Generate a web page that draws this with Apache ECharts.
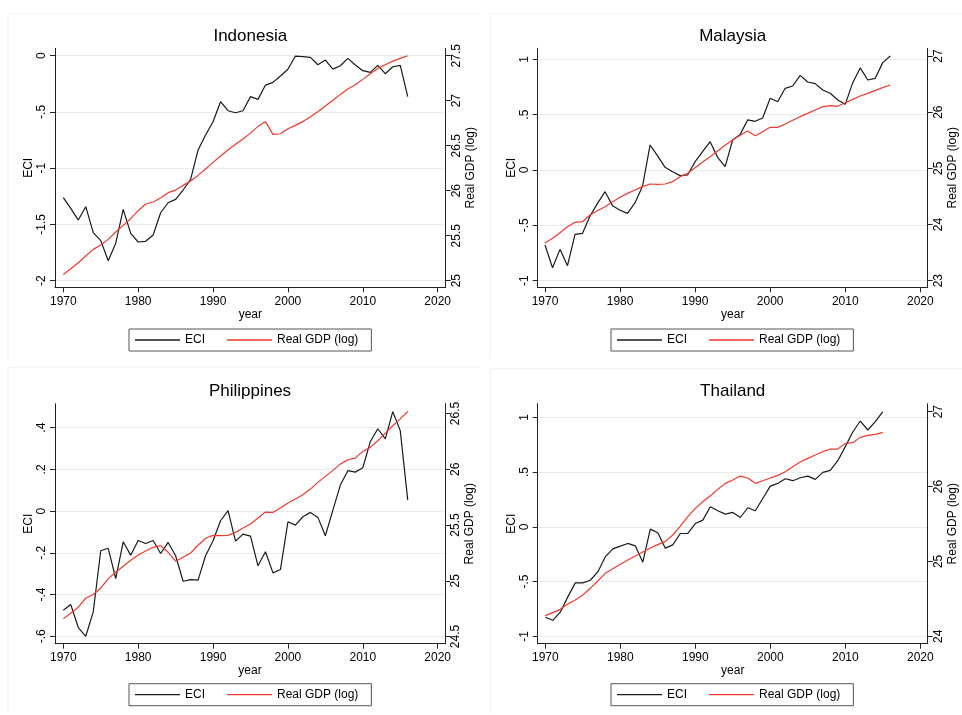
<!DOCTYPE html>
<html><head><meta charset="utf-8">
<script src="https://cdn.jsdelivr.net/npm/echarts@6/dist/echarts.min.js"></script>
<style>html,body{margin:0;padding:0;background:#fff}#c{width:962px;height:715px}</style>
</head><body><div id="c"></div>
<script>
// ---------- DATA ----------
const years = [1970,1971,1972,1973,1974,1975,1976,1977,1978,1979,1980,1981,1982,1983,1984,1985,1986,1987,1988,1989,1990,1991,1992,1993,1994,1995,1996,1997,1998,1999,2000,2001,2002,2003,2004,2005,2006,2007,2008,2009,2010,2011,2012,2013,2014,2015,2016];
const yearsTHA = [1970,1971,1972,1973,1974,1975,1976,1977,1978,1979,1980,1981,1982,1983,1984,1985,1986,1987,1988,1989,1990,1991,1992,1993,1994,1995,1996,1997,1998,1999,2000,2001,2002,2003,2004,2005,2006,2007,2008,2009,2010,2011,2012,2013,2014,2015];

const eciIDN = [-1.262,-1.357,-1.461,-1.342,-1.573,-1.644,-1.822,-1.668,-1.366,-1.579,
  -1.656,-1.650,-1.594,-1.396,-1.307,-1.277,-1.194,-1.099,-0.839,-0.705,
  -0.587,-0.409,-0.489,-0.507,-0.489,-0.364,-0.388,-0.261,-0.237,-0.181,
  -0.121,-0.003,-0.009,-0.015,-0.080,-0.039,-0.119,-0.089,-0.024,-0.083,
  -0.133,-0.148,-0.086,-0.160,-0.098,-0.086,-0.364];
const gdpIDN = [25.070,25.133,25.200,25.274,25.348,25.396,25.459,25.541,25.615,25.689,
  25.778,25.852,25.874,25.919,25.978,26.007,26.059,26.107,26.170,26.241,
  26.315,26.385,26.452,26.515,26.575,26.640,26.715,26.767,26.626,26.633,
  26.689,26.726,26.770,26.822,26.878,26.941,27.004,27.070,27.130,27.178,
  27.237,27.300,27.359,27.400,27.440,27.470,27.500];

const eciMYS = [-0.678,-0.883,-0.717,-0.864,-0.581,-0.572,-0.416,-0.301,-0.196,-0.322,
  -0.364,-0.392,-0.295,-0.145,0.226,0.127,0.024,-0.015,-0.051,-0.045,
  0.075,0.166,0.256,0.114,0.030,0.271,0.322,0.452,0.440,0.470,
  0.648,0.617,0.738,0.759,0.855,0.795,0.780,0.723,0.693,0.633,
  0.593,0.789,0.922,0.813,0.828,0.970,1.030];
const gdpMYS = [23.671,23.754,23.855,23.961,24.039,24.050,24.169,24.246,24.318,24.407,
  24.484,24.555,24.614,24.674,24.721,24.715,24.721,24.763,24.852,24.911,
  25.012,25.113,25.208,25.309,25.410,25.504,25.588,25.665,25.582,25.653,
  25.730,25.730,25.789,25.855,25.920,25.979,26.039,26.098,26.116,26.104,
  26.169,26.228,26.288,26.335,26.389,26.436,26.484];

const eciPHL = [-0.475,-0.448,-0.558,-0.600,-0.483,-0.190,-0.178,-0.323,-0.147,-0.211,
  -0.141,-0.155,-0.141,-0.203,-0.150,-0.214,-0.336,-0.328,-0.331,-0.214,
  -0.142,-0.046,0.002,-0.144,-0.110,-0.120,-0.262,-0.195,-0.296,-0.280,
  -0.051,-0.067,-0.027,-0.006,-0.030,-0.118,0.005,0.125,0.194,0.187,
  0.208,0.333,0.395,0.346,0.477,0.386,0.053];
const gdpPHL = [24.658,24.709,24.763,24.843,24.876,24.933,25.019,25.076,25.130,25.184,
  25.231,25.267,25.300,25.315,25.255,25.175,25.210,25.249,25.318,25.381,
  25.407,25.404,25.407,25.434,25.473,25.509,25.563,25.616,25.613,25.652,
  25.697,25.733,25.772,25.822,25.882,25.936,25.990,26.046,26.085,26.100,
  26.160,26.196,26.255,26.324,26.390,26.452,26.518];

const eciTHA = [-0.826,-0.854,-0.780,-0.640,-0.512,-0.512,-0.488,-0.412,-0.274,-0.201,
  -0.177,-0.152,-0.174,-0.323,-0.021,-0.055,-0.195,-0.165,-0.061,-0.061,
  0.030,0.061,0.183,0.146,0.116,0.131,0.085,0.174,0.146,0.259,
  0.372,0.396,0.439,0.421,0.448,0.463,0.433,0.497,0.515,0.604,
  0.732,0.866,0.966,0.884,0.960,1.052];
const gdpTHA = [24.276,24.316,24.360,24.432,24.485,24.552,24.641,24.739,24.841,24.903,
  24.961,25.019,25.073,25.126,25.179,25.224,25.268,25.353,25.473,25.598,
  25.709,25.798,25.878,25.963,26.043,26.087,26.140,26.114,26.043,26.078,
  26.114,26.150,26.199,26.265,26.328,26.377,26.421,26.466,26.501,26.501,
  26.577,26.586,26.657,26.684,26.697,26.724];

// tick labels
const xTicks = [1970,1980,1990,2000,2010,2020];
const eciTicksIDN = [-2,-1.5,-1,-0.5,0];
const gdpTicksIDN = [25,25.5,26,26.5,27,27.5];
const eciTicksMYS = [-1,-0.5,0,0.5,1];
const gdpTicksMYS = [23,24,25,26,27];
const eciTicksPHL = [-0.6,-0.4,-0.2,0,0.2,0.4];
const gdpTicksPHL = [24.5,25,25.5,26,26.5];
const eciTicksTHA = [-1,-0.5,0,0.5,1];
const gdpTicksTHA = [24,25,26,27];

const titles = ['Indonesia','Malaysia','Philippines','Thailand'];
const seriesNames = ['ECI','Real GDP (log)'];

// ---------- LAYOUT ----------
const FONT = '"Liberation Sans", Arial, Helvetica, sans-serif';
const panels = [
  {title:titles[0], yrs:years, eci:eciIDN, gdp:gdpIDN, lt:eciTicksIDN, rt:gdpTicksIDN,
   box:[55,48.3,445.7,287.3], xr:[[1970,63.3],[2020,437.7]], lr:[[-2,280.7],[0,55.7]], rr:[[25,280.7],[27.5,55.7]],
   tpos:[250.3,36], lpos:[129,329], frame:[8,14]},
  {title:titles[1], yrs:years, eci:eciMYS, gdp:gdpMYS, lt:eciTicksMYS, rt:gdpTicksMYS,
   box:[537.7,48.3,927.7,287.3], xr:[[1970,545],[2020,920.3]], lr:[[-1,280.7],[1,59.3]], rr:[[23,280.7],[27,56]],
   tpos:[732.7,36], lpos:[611,329], frame:[490.3,14]},
  {title:titles[2], yrs:years, eci:eciPHL, gdp:gdpPHL, lt:eciTicksPHL, rt:gdpTicksPHL,
   box:[55,403.7,445,643.7], xr:[[1970,63.3],[2020,437.7]], lr:[[-0.6,636.3],[0.4,427.7]], rr:[[24.5,636.5],[26.5,413.5]],
   tpos:[250,391.7], lpos:[129,683.7], frame:[8,367]},
  {title:titles[3], yrs:yearsTHA, eci:eciTHA, gdp:gdpTHA, lt:eciTicksTHA, rt:gdpTicksTHA,
   box:[537.7,403.7,927.7,643.7], xr:[[1970,545.3],[2020,920.3]], lr:[[-1,636.3],[1,417.3]], rr:[[24,636.3],[27,411.7]],
   tpos:[732.7,391.7], lpos:[611,683.7], frame:[490.3,368.7]}
];
function lin(r, p){ const v1=r[0][0], p1=r[0][1], v2=r[1][0], p2=r[1][1]; return v1 + (p-p1)*(v2-v1)/(p2-p1); }
function fmt(v){ const s = String(Math.round(v*1000)/1000); return s.replace(/^(-?)0\./,'$1.'); }

const AX = '#222';
const grid=[], xAxis=[], yAxis=[], series=[], legend=[], graphic=[];
panels.forEach((p,i)=>{
  const [l,t,r,b] = p.box;
  grid.push({left:l, top:t, width:r-l, height:b-t, containLabel:false});
  xAxis.push({type:'value', gridIndex:i, min:lin(p.xr,l), max:lin(p.xr,r),
    name:'year', nameLocation:'middle', nameGap:21,
    nameTextStyle:{fontSize:12, color:'#000', fontFamily:FONT},
    axisLine:{show:true, onZero:false, lineStyle:{color:AX, width:1}},
    axisTick:{show:true, length:5, customValues:xTicks, lineStyle:{color:AX, width:1}},
    axisLabel:{customValues:xTicks, margin:8, fontSize:12, color:'#000', fontFamily:FONT, formatter:v=>String(v)},
    splitLine:{show:false}});
  yAxis.push({type:'value', gridIndex:i, position:'left', min:lin(p.lr,b), max:lin(p.lr,t),
    name:'ECI', nameLocation:'middle', nameGap:19, nameRotate:90,
    nameTextStyle:{fontSize:12, color:'#000', fontFamily:FONT},
    axisLine:{show:true, onZero:false, lineStyle:{color:AX, width:1}},
    axisTick:{show:true, length:5, customValues:p.lt, lineStyle:{color:AX, width:1}},
    axisLabel:{customValues:p.lt, rotate:90, margin:7, fontSize:12, color:'#000', fontFamily:FONT, formatter:fmt},
    splitLine:{show:true, lineStyle:{color:'#e4eced', width:1}}});
  yAxis.push({type:'value', gridIndex:i, position:'right', min:lin(p.rr,b), max:lin(p.rr,t),
    name:'Real GDP (log)', nameLocation:'middle', nameGap:19, nameRotate:90,
    nameTextStyle:{fontSize:12, color:'#000', fontFamily:FONT},
    axisLine:{show:true, onZero:false, lineStyle:{color:AX, width:1}},
    axisTick:{show:true, length:5, customValues:p.rt, lineStyle:{color:AX, width:1}},
    axisLabel:{customValues:p.rt, rotate:90, margin:5, fontSize:12, color:'#000', fontFamily:FONT, formatter:fmt},
    splitLine:{show:false}});
  series.push({type:'line', name:seriesNames[0], xAxisIndex:i, yAxisIndex:2*i, symbol:'none',
    lineStyle:{color:'#1a1a1a', width:1.2}, itemStyle:{color:'#1a1a1a'},
    data:p.yrs.map((y,k)=>[y,p.eci[k]])});
  series.push({type:'line', name:seriesNames[1], xAxisIndex:i, yAxisIndex:2*i+1, symbol:'none',
    lineStyle:{color:'#ee3a2c', width:1.2}, itemStyle:{color:'#ee3a2c'},
    data:p.yrs.map((y,k)=>[y,p.gdp[k]])});
  legend.push({data:seriesNames.map(n=>({name:n, icon:'rect'})), left:p.lpos[0], top:p.lpos[1], orient:'horizontal',
    itemWidth:45, itemHeight:1.3, itemGap:22, padding:[5,13,5,6],
    borderColor:'#555', borderWidth:1, borderRadius:0, backgroundColor:'#fff', selectedMode:false,
    textStyle:{fontSize:12, color:'#000', fontFamily:FONT, lineHeight:12}});
  graphic.push({type:'text', x:p.tpos[0], y:p.tpos[1], silent:true,
    style:{text:p.title, font:'17px '+FONT, fill:'#000', align:'center', verticalAlign:'middle', textAlign:'center', textVerticalAlign:'middle'}});
  graphic.push({type:'line', silent:true, shape:{x1:p.frame[0], y1:p.frame[1], x2:p.frame[0]+473, y2:p.frame[1]}, style:{stroke:'#eef3f3', lineWidth:1}});
  graphic.push({type:'line', silent:true, shape:{x1:p.frame[0], y1:p.frame[1], x2:p.frame[0], y2:p.frame[1]+345}, style:{stroke:'#eef3f3', lineWidth:1}});
});

const chart = echarts.init(document.getElementById('c'), null, {renderer:'canvas'});
chart.setOption({animation:false, backgroundColor:'#fff', grid, xAxis, yAxis, series, legend, graphic});
</script></body></html>
